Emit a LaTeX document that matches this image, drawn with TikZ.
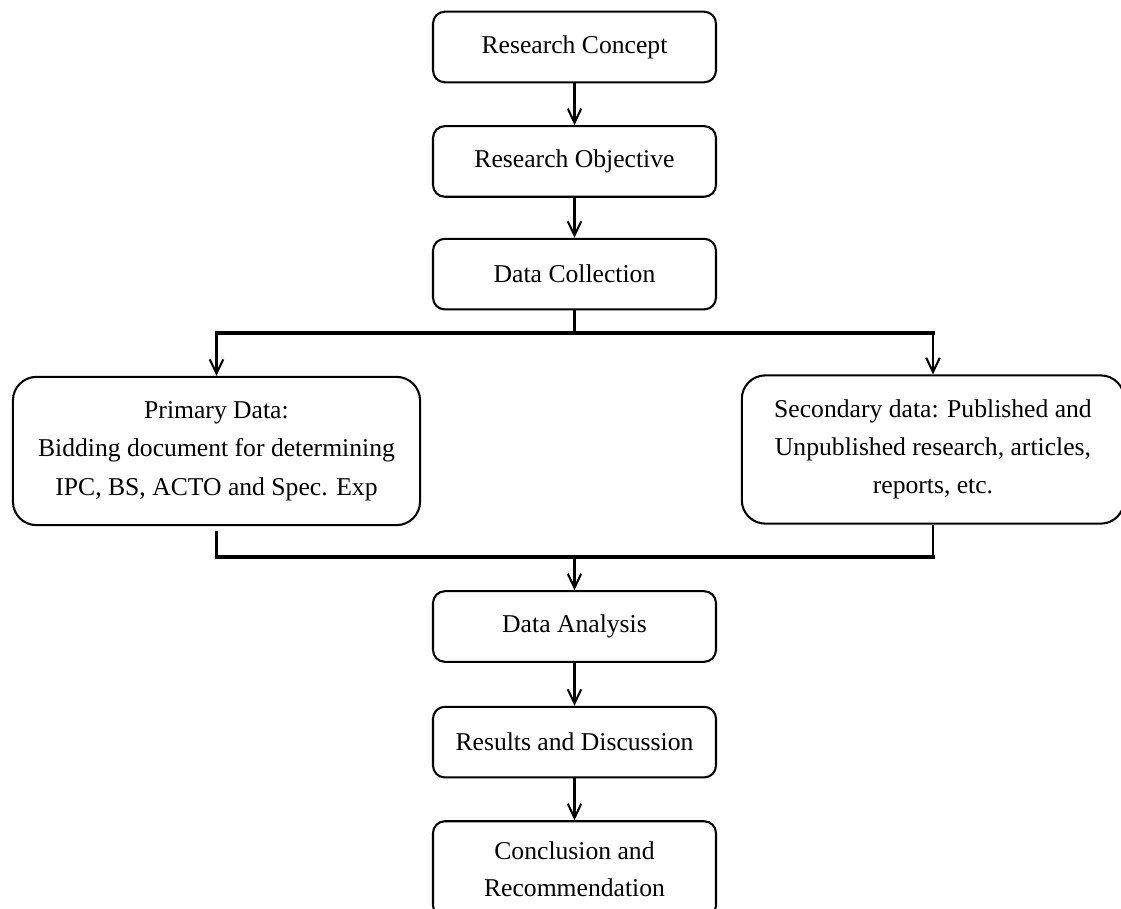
\documentclass[tikz,border=0pt]{standalone}
\usepackage{fontspec}
\setmainfont{Liberation Serif}
\usetikzlibrary{arrows.meta,positioning}

\begin{document}
\begin{tikzpicture}[
    x=0.017cm, y=0.017cm,
    node distance=0.71cm,
    stepbox/.style={rectangle, draw, line width=1pt, rounded corners=0.2cm, minimum width=4.81cm, minimum height=1.2cm, align=center, font=\fontsize{12.4}{18}\selectfont},
    bigbox/.style={rectangle, draw, line width=1pt, rounded corners=0.4cm, minimum height=2.52cm, align=center, font=\fontsize{12.4}{18.5}\selectfont},
    arrow/.style={-{Straight Barb[length=2.4mm,width=2.3mm,line width=1pt]}, line width=1pt},
    link/.style={line width=1pt},
    bar/.style={line width=1.5pt, line cap=rect}
]
\useasboundingbox (0,0) rectangle (1121,-908);

% Main chain
\node[stepbox] (concept) at (574.5,-47) {Research Concept};
\node[stepbox, below=of concept] (objective) {Research Objective};
\node[stepbox, below=0.68cm of objective] (collect) {Data Collection};

% Data sources
\node[bigbox, minimum width=6.92cm] (primary) at (216.5,-451) {Primary Data:\\Bidding document for determining\\IPC, BS, ACTO and Spec. Exp};
\node[bigbox, minimum width=6.5cm] (secondary) at (933,-449.5) {Secondary data: Published and\\Unpublished research, articles,\\reports, etc.};

% Lower chain
\node[stepbox] (analysis) at (574.5,-626.5) {Data Analysis};
\node[stepbox, below=0.73cm of analysis] (results) {Results and Discussion};
\node[stepbox, below=of results, minimum height=1.63cm] (conclusion) {Conclusion and\\Recommendation};

\coordinate (split) at (574.5,-333);
\coordinate (join) at (574.5,-557);

% Arrows
\draw[arrow] (concept) -- (objective);
\draw[arrow] (objective) -- (collect);
\draw[link] (collect) -- (split);
\draw[bar] (primary.north |- split) -- (secondary.north |- split);
\draw[arrow] (primary.north |- split) -- (primary);
\draw[arrow] (secondary.north |- split) -- (secondary);
\draw[link] ([yshift=-0.08cm]primary.south) -- (primary.south |- join);
\draw[link] (secondary.south) -- (secondary.south |- join);
\draw[bar] (primary.south |- join) -- (secondary.south |- join);
\draw[arrow] (join) -- (analysis);
\draw[arrow] (analysis) -- (results);
\draw[arrow] (results) -- (conclusion);
\end{tikzpicture}
\end{document}
